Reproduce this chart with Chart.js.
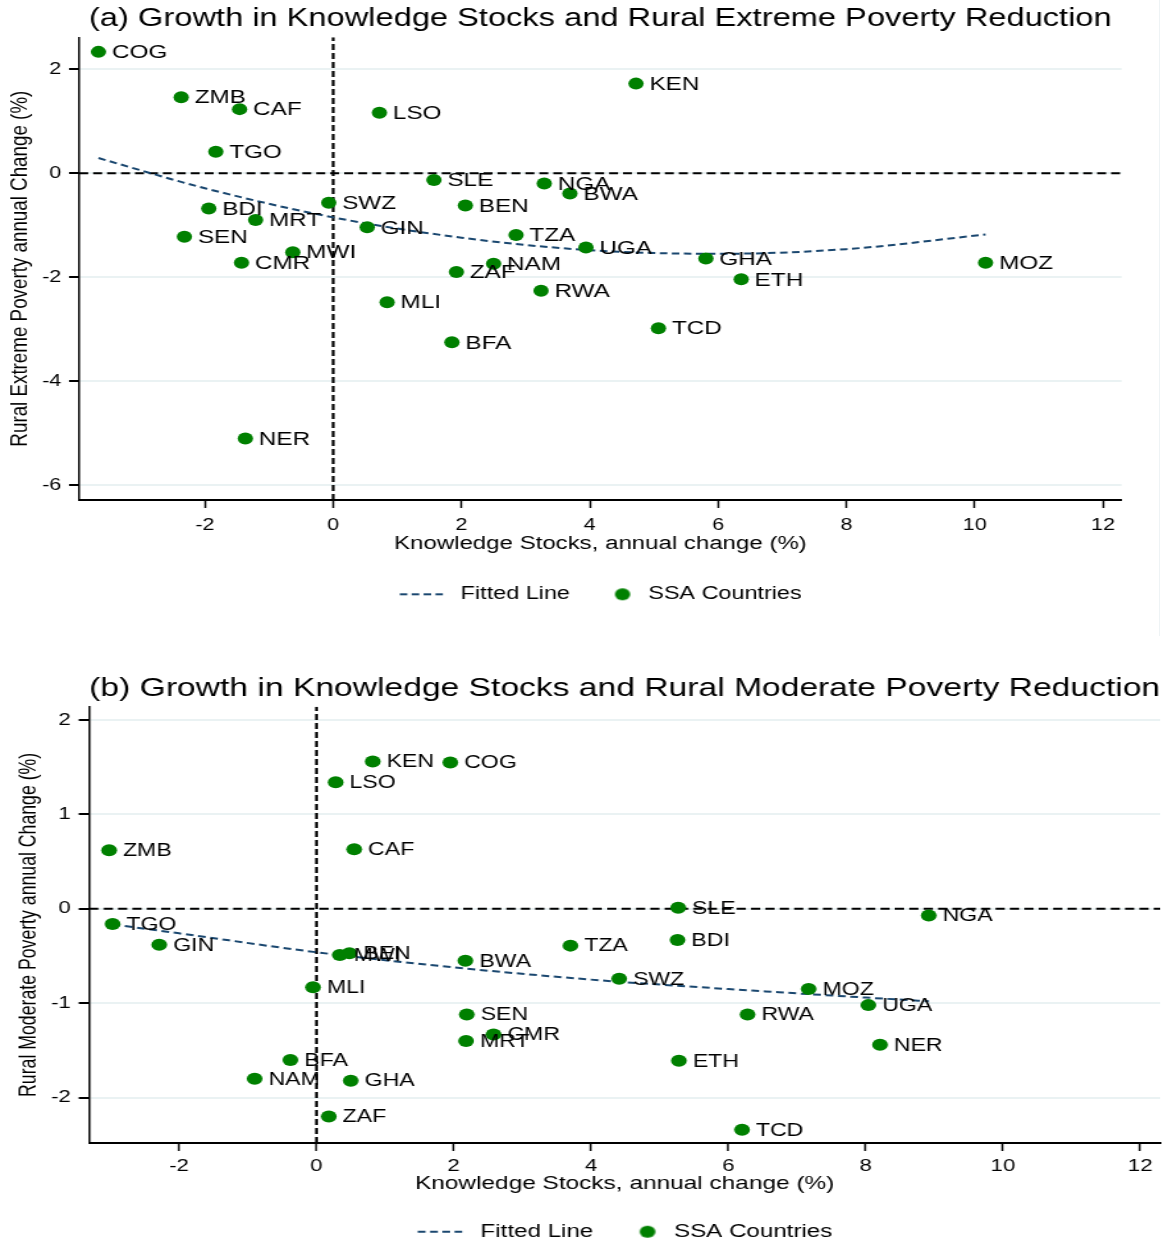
<!DOCTYPE html>
<html>
<head>
<meta charset="utf-8">
<script src="https://cdn.jsdelivr.net/npm/chart.js@4.4.1/dist/chart.umd.min.js"></script>
<style>
  html, body { margin: 0; padding: 0; background: #fff; }
  #page { position: relative; width: 1168px; height: 1242px; overflow: hidden; background: #fff; }
  canvas { position: absolute; left: 0; }
  #edge { position: absolute; left: 1159px; top: 0; width: 1px; height: 636px; background: #eef3f5; }
</style>
</head>
<body>
<div id="page">
  <!-- the picture is stretched sideways, so each canvas is drawn narrow and widened by css -->
  <canvas id="chartA" width="913" height="636" style="top:0;width:1168px;height:636px"></canvas>
  <canvas id="chartB" width="885" height="616" style="top:636px;width:1168px;height:616px"></canvas>
  <div id="edge"></div>
</div>
<script>
// (a) extreme poverty
const countriesA = ["COG","ZMB","CAF","LSO","TGO","KEN","SLE","NGA","BWA","SWZ","BDI","BEN","MRT","GIN","SEN",
  "TZA","UGA","MWI","CMR","NAM","ZAF","GHA","ETH","MOZ","RWA","MLI","TCD","BFA","NER"];
const knowledgeA = [-3.66,-2.37,-1.46,0.72,-1.83,4.72,1.57,3.29,3.69,-0.07,-1.94,2.06,-1.21,0.53,-2.32,
  2.85,3.94,-0.63,-1.43,2.50,1.92,5.81,6.36,10.17,3.24,0.84,5.07,1.85,-1.37];
const extremeA = [2.33,1.46,1.23,1.16,0.41,1.72,-0.13,-0.20,-0.39,-0.57,-0.68,-0.62,-0.90,-1.04,-1.22,
  -1.19,-1.43,-1.52,-1.72,-1.74,-1.90,-1.64,-2.04,-1.72,-2.26,-2.48,-2.98,-3.25,-5.10];
// fitted line
const fitXA = [-3.66,-2,0,2,4,6,8,10.17];
const fitYA = [0.29,-0.29,-0.85,-1.24,-1.48,-1.55,-1.46,-1.18];

// (b) moderate poverty
const countriesB = ["KEN","COG","LSO","ZMB","CAF","TGO","GIN","MWI","BEN","BWA","TZA","SLE","NGA","BDI","SWZ",
  "MOZ","UGA","RWA","NER","ETH","TCD","MLI","SEN","CMR","MRT","BFA","NAM","GHA","ZAF"];
const knowledgeB = [0.82,1.95,0.28,-3.02,0.55,-2.97,-2.29,0.34,0.48,2.17,3.70,5.27,8.92,5.26,4.41,
  7.17,8.04,6.28,8.21,5.28,6.20,-0.05,2.19,2.58,2.18,-0.38,-0.90,0.50,0.18];
const moderateB = [1.56,1.55,1.34,0.62,0.63,-0.16,-0.38,-0.49,-0.47,-0.55,-0.39,0.01,-0.07,-0.33,-0.74,
  -0.85,-1.02,-1.12,-1.44,-1.61,-2.34,-0.83,-1.12,-1.33,-1.40,-1.60,-1.80,-1.82,-2.20];
const fitXB = [-2.97,-2,0,2,4,6,8,8.92];
const fitYB = [-0.165,-0.26,-0.46,-0.62,-0.75,-0.85,-0.94,-0.98];

const xTitle = "Knowledge Stocks, annual change (%)";
const green = "#008000";
const navy = "#1a476f";

Chart.defaults.font.family = "'Liberation Sans', Arial, sans-serif";
Chart.defaults.color = "#000";

// small pictures for the legend keys
function dashKey() {
  const c = document.createElement("canvas");
  c.width = 39; c.height = 6;
  const g = c.getContext("2d");
  g.strokeStyle = navy;
  g.lineWidth = 2;
  g.setLineDash([5.9, 3.4]);
  g.beginPath();
  g.moveTo(0.5, 3);
  g.lineTo(34.2, 3);
  g.stroke();
  return c;
}

function dotKey() {
  const c = document.createElement("canvas");
  c.width = 39; c.height = 14;
  const g = c.getContext("2d");
  g.fillStyle = green;
  g.beginPath();
  g.arc(28, 7, 6, 0, Math.PI * 2);
  g.fill();
  return c;
}

const dashImg = dashKey();
const dotImg = dotKey();

// country codes next to the dots
const pointLabels = {
  id: "pointLabels",
  afterDatasetsDraw(chart, args, opts) {
    const ctx = chart.ctx;
    const meta = chart.getDatasetMeta(0);
    ctx.save();
    ctx.font = `${opts.size}px 'Liberation Sans', Arial, sans-serif`;
    ctx.fillStyle = "#000";
    ctx.textBaseline = "middle";
    meta.data.forEach((pt, i) => {
      ctx.fillText(opts.names[i], pt.x + 10.5, pt.y + 1);
    });
    ctx.restore();
  }
};

function makeChart(id, c) {
  const points = c.xs.map((x, i) => ({ x: x, y: c.ys[i] }));
  const fit = c.fitX.map((x, i) => ({ x: x, y: c.fitY[i] }));

  const config = {
    type: "scatter",
    data: {
      datasets: [
        {
          label: "SSA Countries",
          data: points,
          pointBackgroundColor: green,
          backgroundColor: green,
          pointBorderWidth: 0,
          borderWidth: 0,
          pointRadius: 6,
          pointHoverRadius: 6
        },
        {
          label: "Fitted Line",
          data: fit,
          showLine: true,
          borderColor: navy,
          borderWidth: 2,
          borderDash: [5.9, 3.5],
          pointRadius: 0,
          cubicInterpolationMode: "monotone"
        },
        {
          label: "zero y",
          data: [{ x: c.xMin, y: 0 }, { x: c.xMax, y: 0 }],
          showLine: true,
          borderColor: "#000",
          borderWidth: 2,
          borderDash: [7, 3.9],
          pointRadius: 0
        },
        {
          label: "zero x",
          data: [{ x: 0, y: c.yMin }, { x: 0, y: c.yMax }],
          showLine: true,
          borderColor: "#000",
          borderWidth: 2.2,
          borderDash: [6, 3],
          pointRadius: 0
        }
      ]
    },
    options: {
      responsive: false,
      animation: false,
      devicePixelRatio: 1,
      events: [],
      layout: { padding: { left: 0, top: 0, right: c.padRight, bottom: c.padBottom } },
      scales: {
        x: {
          type: "linear",
          min: c.xMin,
          max: c.xMax,
          afterFit: (s) => { s.height = c.xHeight; },
          ticks: { stepSize: 2, includeBounds: false, padding: c.xTickPad, maxRotation: 0, font: { size: 16.8 } },
          grid: { drawOnChartArea: false, tickLength: 8, tickColor: "#000", tickWidth: 1.5 },
          border: { color: "#000", width: 2 },
          title: { display: true, text: xTitle, font: { size: c.xTitleSize }, padding: { top: 0, bottom: c.xTitlePad } }
        },
        y: {
          type: "linear",
          min: c.yMin,
          max: c.yMax,
          afterFit: (s) => { s.width = c.yWidth; },
          ticks: { stepSize: c.yStep, includeBounds: false, padding: 6, font: { size: 16.8 } },
          grid: { color: "#eaf2f3", lineWidth: 2, tickLength: 8, tickColor: "#000", tickWidth: 2 },
          border: { color: "#000", width: 1.5 },
          title: { display: true, text: c.yTitle, font: { size: c.yTitleSize }, padding: { top: c.yTitlePad, bottom: 0 } }
        }
      },
      plugins: {
        title: {
          display: true,
          text: c.title,
          fullSize: false,
          color: "#000",
          font: { size: 25.5, weight: "normal" },
          padding: { top: c.titleTop, bottom: c.titleBottom }
        },
        legend: {
          position: "bottom",
          fullSize: false,
          labels: {
            usePointStyle: true,
            pointStyleWidth: 39,
            padding: 13.1,
            color: "#000",
            font: { size: 18.3 },
            generateLabels: () => [
              { text: "Fitted Line", pointStyle: dashImg, fontColor: "#000", hidden: false, lineWidth: 0, datasetIndex: 1 },
              { text: "SSA Countries", pointStyle: dotImg, fontColor: "#000", hidden: false, lineWidth: 0, datasetIndex: 0 }
            ]
          }
        },
        tooltip: { enabled: false },
        pointLabels: { names: c.names, size: c.labelSize }
      }
    },
    plugins: [pointLabels]
  };

  return new Chart(document.getElementById(id), config);
}

makeChart("chartA", {
  names: countriesA, xs: knowledgeA, ys: extremeA, fitX: fitXA, fitY: fitYA,
  title: "(a) Growth in Knowledge Stocks and Rural Extreme Poverty Reduction",
  yTitle: "Rural Extreme Poverty annual Change (%)",
  xMin: -3.96, xMax: 12.29, yMin: -6.28, yMax: 2.61, yStep: 2,
  titleTop: 4, titleBottom: 2.7,
  padRight: 36.3, padBottom: 22.55,
  xHeight: 72.05, xTickPad: 7.6, xTitleSize: 18.8, xTitlePad: 16.77,
  yWidth: 61.9, yTitleSize: 18.8, yTitlePad: 4.3,
  labelSize: 19
});

makeChart("chartB", {
  names: countriesB, xs: knowledgeB, ys: moderateB, fitX: fitXB, fitY: fitYB,
  title: "(b) Growth in Knowledge Stocks and Rural Moderate Poverty Reduction",
  yTitle: "Rural Moderate Poverty annual Change (%)",
  xMin: -3.31, xMax: 12.29, yMin: -2.48, yMax: 2.14, yStep: 1,
  titleTop: 37.2, titleBottom: 2.9,
  padRight: 5.5, padBottom: 1.15,
  xHeight: 66.45, xTickPad: 5.6, xTitleSize: 18.5, xTitlePad: 14.35,
  yWidth: 67.6, yTitleSize: 17.7, yTitlePad: 11.1,
  labelSize: 17.5
});
</script>
</body>
</html>
